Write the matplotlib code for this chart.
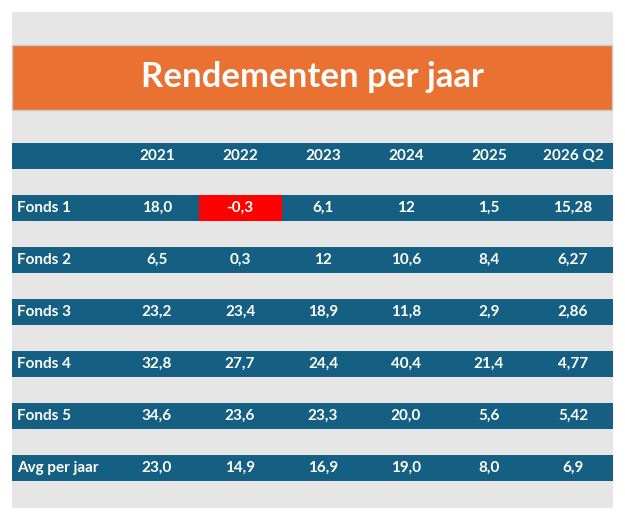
import matplotlib
matplotlib.use("Agg")
import matplotlib.pyplot as plt
from matplotlib.patches import Rectangle

# ── data ──────────────────────────────────────────────────────────────────────
TITLE = "Rendementen per jaar"
YEARS = ["2021", "2022", "2023", "2024", "2025", "2026 Q2"]
ROW_LABELS = ["Fonds 1", "Fonds 2", "Fonds 3", "Fonds 4", "Fonds 5", "Avg per jaar"]
FONDS_1 = ["18,0", "-0,3", "6,1", "12", "1,5", "15,28"]
FONDS_2 = ["6,5", "0,3", "12", "10,6", "8,4", "6,27"]
FONDS_3 = ["23,2", "23,4", "18,9", "11,8", "2,9", "2,86"]
FONDS_4 = ["32,8", "27,7", "24,4", "40,4", "21,4", "4,77"]
FONDS_5 = ["34,6", "23,6", "23,3", "20,0", "5,6", "5,42"]
AVG = ["23,0", "14,9", "16,9", "19,0", "8,0", "6,9"]
ROWS = [FONDS_1, FONDS_2, FONDS_3, FONDS_4, FONDS_5, AVG]

BLUE = "#156082"
GREY = "#E7E6E6"
ORANGE = "#E97132"
RED = "#FF0000"
FONT = "Lato"

fig = plt.figure(figsize=(6.25, 5.21), dpi=100)
ax = fig.add_axes([0, 0, 1, 1])
ax.set_xlim(0, 625)
ax.set_ylim(521, 0)
ax.axis("off")

# background and title band
ax.add_patch(Rectangle((12, 12), 601, 496, color=GREY, lw=0))
ax.add_patch(Rectangle((12, 45), 600, 65, facecolor=ORANGE, edgecolor="#C8C8C8", lw=1))
ax.text(312, 77, TITLE, ha="center", va="center", color="white",
        fontsize=25, fontweight="bold", family=FONT)

col_x = [157, 240, 323, 406, 489, 573]
col_w = 83
row_h = 26

# header
hy = 143
ax.add_patch(Rectangle((12, hy), 601, row_h, color=BLUE, lw=0))
for x, yr in zip(col_x, YEARS):
    ax.text(x, hy + row_h / 2, yr, ha="center", va="center", color="white",
            fontsize=11, fontweight="bold", family=FONT)

# rows
for i, (label, vals) in enumerate(zip(ROW_LABELS, ROWS)):
    y = 195 + i * 52
    ax.add_patch(Rectangle((12, y), 601, row_h, color=BLUE, lw=0))
    ax.text(17, y + row_h / 2, label, ha="left", va="center", color="white",
            fontsize=11, fontweight="bold", family=FONT)
    for x, v in zip(col_x, vals):
        if v.startswith("-"):
            ax.add_patch(Rectangle((x - col_w / 2, y), col_w, row_h, color=RED, lw=0))
        ax.text(x, y + row_h / 2, v, ha="center", va="center", color="white",
                fontsize=11, fontweight="bold", family=FONT)

fig.savefig("out.png", dpi=100)
